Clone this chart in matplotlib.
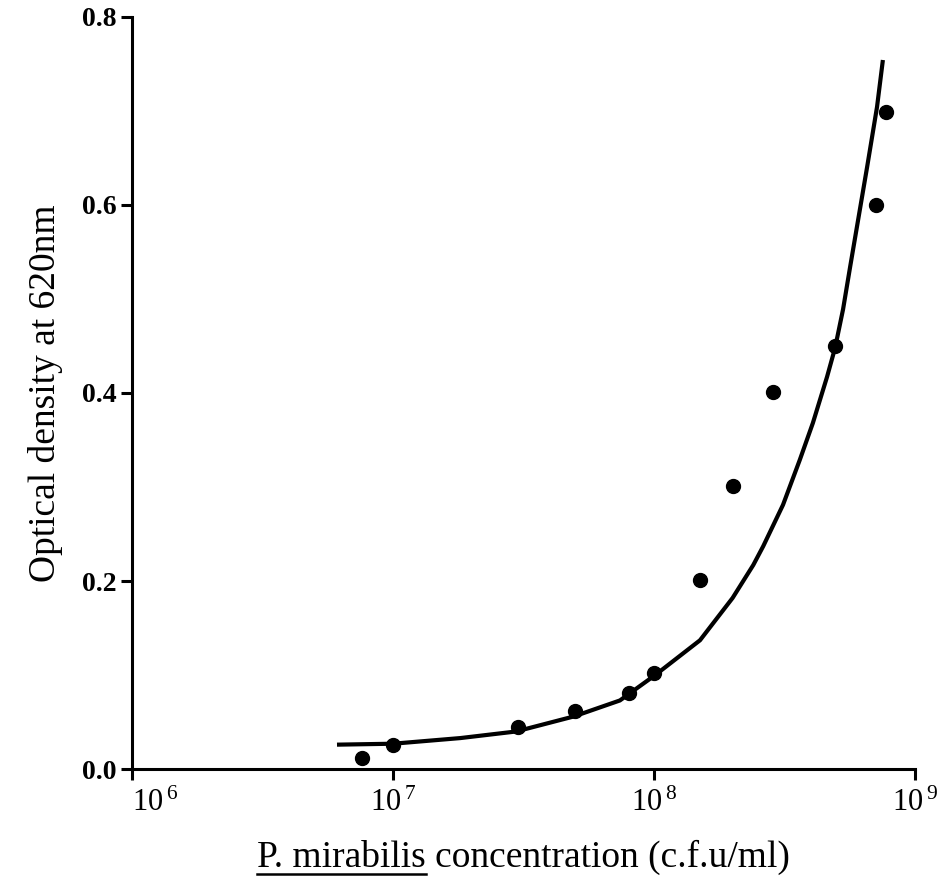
#!/usr/bin/env python3

"""
plot.py
"""

from matplotlib import pyplot as plt
from matplotlib.lines import Line2D
from matplotlib.ticker import FixedLocator, FixedFormatter

# Measured points (c.f.u/ml, optical density)
conc = [7.6e6, 1.0e7, 3.0e7, 5.0e7, 8.0e7, 1.0e8, 1.5e8, 2.0e8, 2.85e8, 4.95e8, 7.1e8, 7.75e8]
od = [0.012, 0.026, 0.045, 0.062, 0.081, 0.102, 0.201, 0.301, 0.401, 0.450, 0.600, 0.699]

# Fitted curve
fit_conc = [6.1e6, 1.0e7, 1.81e7, 2.96e7, 4.93e7, 7.4e7, 1.01e8, 1.5e8, 2.0e8, 2.4e8,
            2.62e8, 3.12e8, 3.62e8, 4.06e8, 4.6e8, 4.94e8, 5.3e8, 5.64e8, 6.55e8,
            7.15e8, 7.53e8]
fit_od = [0.026, 0.027, 0.033, 0.040, 0.056, 0.073, 0.100, 0.137, 0.182, 0.217,
          0.237, 0.281, 0.329, 0.368, 0.417, 0.448, 0.489, 0.534, 0.640,
          0.704, 0.754]

x_ticks = [1e6, 1e7, 1e8, 1e9]
x_tick_labels = [r'$\mathregular{10^{\,6}}$', r'$\mathregular{10^{\,7}}$',
                 r'$\mathregular{10^{\,8}}$', r'$\mathregular{10^{\,9}}$']
y_ticks = [0.0, 0.2, 0.4, 0.6, 0.8]

plt.rcParams['font.family'] = ['Liberation Serif', 'DejaVu Serif']
plt.rcParams['mathtext.fontset'] = 'custom'
plt.rcParams['mathtext.rm'] = 'Liberation Serif'

fig = plt.figure(figsize=(9.45, 8.81), dpi=100)
ax = fig.add_axes([0.1397, 0.127, 0.8286, 0.854])

ax.plot(fit_conc, fit_od, color='black', linewidth=3.0,
        solid_capstyle='butt', solid_joinstyle='round')
ax.plot(conc, od, 'o', color='black', markersize=10)

ax.set_xscale('log')
ax.set_xlim(1e6, 1e9)
ax.set_ylim(0, 0.8)

ax.xaxis.set_major_locator(FixedLocator(x_ticks))
ax.xaxis.set_major_formatter(FixedFormatter(x_tick_labels))
ax.xaxis.set_minor_locator(FixedLocator([]))
ax.set_yticks(y_ticks)
ax.set_yticklabels(['{:.1f}'.format(v) for v in y_ticks],
                   fontweight='bold', fontsize=20)

for side in ('top', 'right'):
  ax.spines[side].set_visible(False)
for side in ('left', 'bottom'):
  ax.spines[side].set_linewidth(2.2)
ax.tick_params(axis='both', direction='out', length=8, width=2.2)
ax.tick_params(axis='x', labelsize=22, pad=6)
ax.tick_params(axis='y', pad=3)

# The first decade label sits a little to the right in the original.
fig.canvas.draw()
first = ax.get_xticklabels()[0]
first.set_horizontalalignment('left')
first.set_x(1e6)

ax.set_ylabel('Optical density at 620nm', fontsize=27, labelpad=14)
xlabel = ax.set_xlabel('P. mirabilis concentration (c.f.u/ml)', fontsize=27, labelpad=16)

# Underline the species name: measure it and draw a line under it.
fig.canvas.draw()
renderer = fig.canvas.get_renderer()
full = xlabel.get_window_extent(renderer)
probe = fig.text(0, 0, 'P. mirabilis', fontsize=27)
part = probe.get_window_extent(renderer)
probe.remove()
y_line = (full.y0 + 1) / fig.bbox.height
fig.add_artist(Line2D([full.x0 / fig.bbox.width, (full.x0 + part.width) / fig.bbox.width],
                      [y_line, y_line], transform=fig.transFigure,
                      color='black', linewidth=1.8))

fig.savefig('out.png', dpi=100)
